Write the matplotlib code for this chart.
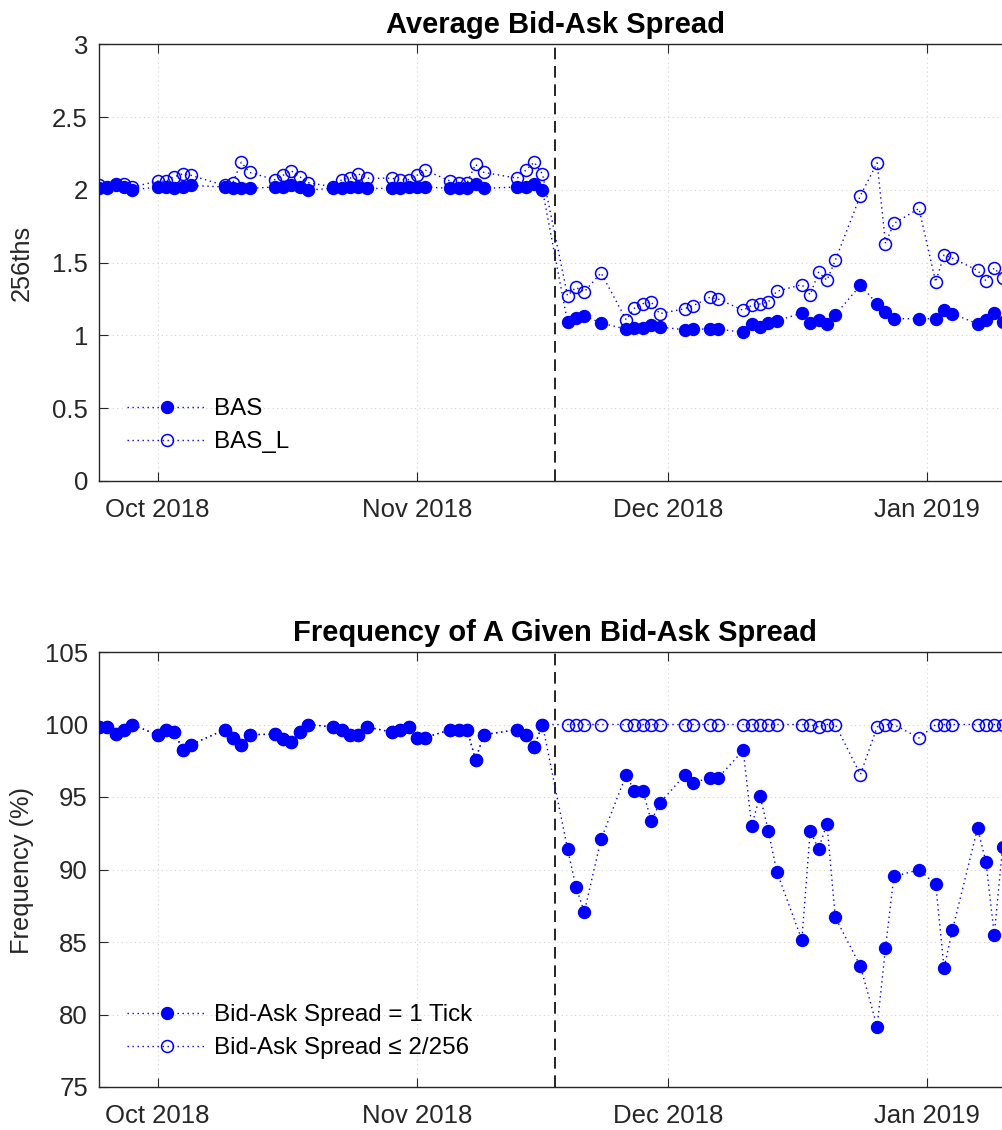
import datetime as dt
import matplotlib
matplotlib.use('Agg')
import matplotlib.pyplot as plt
import matplotlib.dates as mdates
from matplotlib.ticker import FuncFormatter, MultipleLocator

plt.rcParams['font.family'] = ['Liberation Sans', 'DejaVu Sans']

# trading days
days = ['2018-09-24', '2018-09-25', '2018-09-26', '2018-09-27', '2018-09-28',
        '2018-10-01', '2018-10-02', '2018-10-03', '2018-10-04', '2018-10-05',
        '2018-10-09', '2018-10-10', '2018-10-11', '2018-10-12',
        '2018-10-15', '2018-10-16', '2018-10-17', '2018-10-18', '2018-10-19',
        '2018-10-22', '2018-10-23', '2018-10-24', '2018-10-25', '2018-10-26',
        '2018-10-29', '2018-10-30', '2018-10-31', '2018-11-01', '2018-11-02',
        '2018-11-05', '2018-11-06', '2018-11-07', '2018-11-08', '2018-11-09',
        '2018-11-13', '2018-11-14', '2018-11-15', '2018-11-16',
        '2018-11-19', '2018-11-20', '2018-11-21', '2018-11-23',
        '2018-11-26', '2018-11-27', '2018-11-28', '2018-11-29', '2018-11-30',
        '2018-12-03', '2018-12-04', '2018-12-06', '2018-12-07',
        '2018-12-10', '2018-12-11', '2018-12-12', '2018-12-13', '2018-12-14',
        '2018-12-17', '2018-12-18', '2018-12-19', '2018-12-20', '2018-12-21',
        '2018-12-24', '2018-12-26', '2018-12-27', '2018-12-28',
        '2018-12-31', '2019-01-02', '2019-01-03', '2019-01-04',
        '2019-01-07', '2019-01-08', '2019-01-09', '2019-01-10']

bas = [2.01, 2.01, 2.03, 2.02, 2.00,
       2.02, 2.02, 2.01, 2.02, 2.03,
       2.02, 2.01, 2.01, 2.01,
       2.02, 2.02, 2.03, 2.02, 2.00,
       2.01, 2.01, 2.02, 2.02, 2.01,
       2.01, 2.01, 2.02, 2.02, 2.02,
       2.01, 2.01, 2.01, 2.04, 2.01,
       2.02, 2.02, 2.04, 2.00,
       1.09, 1.12, 1.135, 1.085,
       1.044, 1.051, 1.051, 1.074, 1.058,
       1.039, 1.044, 1.044, 1.044,
       1.021, 1.078, 1.055, 1.085, 1.10,
       1.154, 1.085, 1.103, 1.078, 1.142,
       1.344, 1.218, 1.161, 1.115,
       1.115, 1.115, 1.177, 1.149,
       1.08, 1.103, 1.154, 1.09]

bas_l = [2.03, 2.02, 2.04, 2.04, 2.02,
         2.06, 2.06, 2.09, 2.11, 2.10,
         2.03, 2.05, 2.19, 2.12,
         2.07, 2.10, 2.13, 2.09, 2.05,
         2.02, 2.07, 2.08, 2.11, 2.08,
         2.08, 2.07, 2.07, 2.10, 2.135,
         2.06, 2.05, 2.05, 2.175, 2.12,
         2.08, 2.135, 2.19, 2.11,
         1.273, 1.33, 1.30, 1.43,
         1.108, 1.188, 1.218, 1.23, 1.149,
         1.184, 1.204, 1.262, 1.25,
         1.172, 1.207, 1.216, 1.23, 1.303,
         1.349, 1.28, 1.434, 1.379, 1.516,
         1.961, 2.186, 1.631, 1.769,
         1.872, 1.367, 1.553, 1.53,
         1.447, 1.376, 1.464, 1.395]

freq_1tick = [99.83, 99.83, 99.33, 99.64, 100.0,
              99.26, 99.64, 99.48, 98.27, 98.61,
              99.64, 99.1, 98.61, 99.3,
              99.33, 98.98, 98.8, 99.48, 100.0,
              99.83, 99.64, 99.3, 99.3, 99.83,
              99.48, 99.64, 99.83, 99.1, 99.1,
              99.64, 99.64, 99.64, 97.58, 99.3,
              99.64, 99.3, 98.45, 100.0,
              91.42, 88.81, 87.07, 92.08,
              96.51, 95.43, 95.43, 93.35, 94.56,
              96.51, 95.98, 96.32, 96.32,
              98.22, 93.0, 95.09, 92.66, 89.86,
              85.14, 92.66, 91.42, 93.16, 86.7,
              83.33, 79.16, 84.59, 89.52,
              89.98, 88.99, 83.21, 85.83,
              92.84, 90.55, 85.5, 91.58]

freq_le2 = [99.83, 99.83, 99.33, 99.64, 100.0,
            99.26, 99.64, 99.48, 98.27, 98.61,
            99.64, 99.1, 98.61, 99.3,
            99.33, 98.98, 98.8, 99.48, 100.0,
            99.83, 99.64, 99.3, 99.3, 99.83,
            99.48, 99.64, 99.83, 99.1, 99.1,
            99.64, 99.64, 99.64, 97.58, 99.3,
            99.64, 99.3, 98.45, 100.0,
            100, 100, 100, 100,
            100, 100, 100, 100, 100,
            100, 100, 100, 100,
            100, 100, 100, 100, 100,
            100, 100, 99.83, 100, 100,
            96.55, 99.83, 100, 100,
            99.07, 100, 100, 100,
            100, 100, 100, 100]

dates = [dt.datetime.strptime(d, '%Y-%m-%d') for d in days]
change_date = dt.datetime(2018, 11, 17, 12)
x_start = dt.datetime(2018, 9, 24)
x_end = dt.datetime(2019, 1, 11)

blue = (0, 0, 1)
dark = '#262626'
fs = 18.5       # tick labels
fs_leg = 17.4
fs_title = 21
fs_lab = 18.3

fig = plt.figure(figsize=(10.02, 11.3), dpi=100)
W, H = 1002, 1130
ax1 = fig.add_axes([99 / W, (H - 481) / H, 912 / W, 436.7 / H])
ax2 = fig.add_axes([99 / W, (H - 1087) / H, 912 / W, 435 / H])

dot = (0, (1, 2.6))


def style(ax, ylim, step):
    ax.set_xlim(x_start, x_end)
    ax.set_ylim(*ylim)
    ax.yaxis.set_major_locator(MultipleLocator(step))
    ax.yaxis.set_major_formatter(FuncFormatter(lambda v, p: '%g' % v))
    ax.xaxis.set_major_locator(mdates.MonthLocator())
    ax.xaxis.set_major_formatter(mdates.DateFormatter('%b %Y'))
    ax.tick_params(direction='in', top=True, right=True, length=6.5, width=0.8,
                   labelsize=fs, colors=dark, pad=8)
    ax.tick_params(axis='x', pad=12)
    for s in ax.spines.values():
        s.set_color(dark)
        s.set_linewidth(1.0)
    ax.grid(True, color='#d4d4d4', linestyle=(0, (1, 3)), linewidth=0.8)
    ax.axvline(change_date, color='k', linestyle='--', linewidth=1.2, dashes=(7, 4))


def add_legend(ax):
    ax.legend(loc='lower left', bbox_to_anchor=(0.031, 0.064), frameon=False,
              fontsize=fs_leg, handlelength=3.27, handletextpad=0.33,
              labelspacing=0.45, borderpad=0, borderaxespad=0)


ax1.plot(dates, bas, linestyle=dot, color=blue, lw=1.0, marker='o', ms=8.6,
         mfc=blue, mec=blue, label='BAS', zorder=3)
ax1.plot(dates, bas_l, linestyle=dot, color=blue, lw=1.0, marker='o', ms=8.6,
         mfc='none', mec=blue, mew=1.1, label='BAS_L', zorder=2)
style(ax1, (0, 3), 0.5)
ax1.set_title('Average Bid-Ask Spread', fontsize=fs_title, fontweight='bold', pad=8)
add_legend(ax1)

ax2.plot(dates, freq_1tick, linestyle=dot, color=blue, lw=1.0, marker='o', ms=8.6,
         mfc=blue, mec=blue, label='Bid-Ask Spread = 1 Tick', zorder=3)
ax2.plot(dates, freq_le2, linestyle=dot, color=blue, lw=1.0, marker='o', ms=8.6,
         mfc='none', mec=blue, mew=1.1, label='Bid-Ask Spread \u2264 2/256', zorder=2)
style(ax2, (75, 105), 5)
ax2.set_title('Frequency of A Given Bid-Ask Spread', fontsize=fs_title,
              fontweight='bold', pad=8)
add_legend(ax2)

fig.text(22 / W, 1 - 263 / H, '256ths', rotation=90, ha='center', va='center',
         fontsize=fs_lab, color=dark)
fig.text(22 / W, 1 - 870 / H, 'Frequency (%)', rotation=90, ha='center',
         va='center', fontsize=fs_lab, color=dark)

fig.savefig('out.png', dpi=100)
